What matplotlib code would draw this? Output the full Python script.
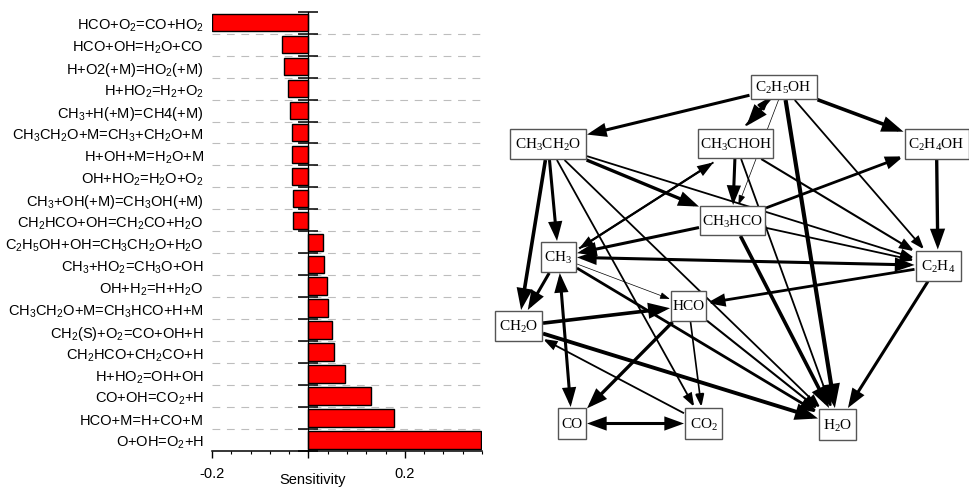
import re
import matplotlib
matplotlib.use("Agg")
import matplotlib.pyplot as plt
from matplotlib.patches import Rectangle, FancyArrowPatch
import numpy as np

plt.rcParams["font.family"] = ["Liberation Sans", "DejaVu Sans"]

# ---------------- data: sensitivity bar chart ----------------
reactions = [
    "HCO+O_2=CO+HO_2", "HCO+OH=H_2O+CO", "H+O2(+M)=HO_2(+M)", "H+HO_2=H_2+O_2",
    "CH_3+H(+M)=CH4(+M)", "CH_3CH_2O+M=CH_3+CH_2O+M", "H+OH+M=H_2O+M",
    "OH+HO_2=H_2O+O_2", "CH_3+OH(+M)=CH_3OH(+M)", "CH_2HCO+OH=CH_2CO+H_2O",
    "C_2H_5OH+OH=CH_3CH_2O+H_2O", "CH_3+HO_2=CH_3O+OH", "OH+H_2=H+H_2O",
    "CH_3CH_2O+M=CH_3HCO+H+M", "CH_2(S)+O_2=CO+OH+H", "CH_2HCO+CH_2CO+H",
    "H+HO_2=OH+OH", "CO+OH=CO_2+H", "HCO+M=H+CO+M", "O+OH=O_2+H",
]
sensitivity = [-0.200, -0.055, -0.050, -0.043, -0.038, -0.035, -0.035, -0.034,
               -0.032, -0.031, 0.030, 0.033, 0.039, 0.040, 0.048, 0.054,
               0.075, 0.130, 0.177, 0.358]
x_ticks = [-0.2, 0.0, 0.2]
x_tick_labels = ["-0.2", "", "0.2"]
x_label = "Sensitivity"

# ---------------- data: reaction path network ----------------
species = ["C_2H_5OH", "CH_3CH_2O", "CH_3CHOH", "C_2H_4OH", "CH_3HCO", "CH_3",
           "C_2H_4", "HCO", "CH_2O", "CO", "CO_2", "H_2O"]
node_x = [783.5, 548, 735.5, 936.5, 732.5, 558.5, 938, 688.5, 518.5, 572, 703.5, 837.5]
node_y = [88, 145, 144.5, 145, 221.5, 258, 266.5, 307, 327, 424.5, 424.5, 425.5]
node_w = [66, 76, 75, 64, 65, 35, 45, 35, 47, 28, 37, 37]
node_h = [24, 30, 29, 30, 29, 30, 30, 30, 30, 31, 31, 31]

edge_src = ["C_2H_5OH", "C_2H_5OH", "CH_3CHOH", "C_2H_5OH", "C_2H_5OH", "C_2H_5OH",
            "C_2H_5OH", "CH_3CH_2O", "CH_3CH_2O", "CH_3CH_2O", "CH_3CH_2O", "CH_3CH_2O",
            "CH_3CH_2O", "CH_3CHOH", "CH_3", "CH_3CHOH", "CH_3CHOH", "CH_3CHOH",
            "CH_3HCO", "CH_3HCO", "CH_3HCO", "CH_3HCO", "CH_3", "CH_3", "CH_3",
            "CH_3", "CH_3", "CH_2O", "CH_2O", "CO_2", "HCO", "HCO", "HCO", "C_2H_4",
            "CO", "C_2H_4OH", "C_2H_4"]
edge_dst = ["CH_3CH_2O", "CH_3CHOH", "C_2H_5OH", "CH_3HCO", "H_2O", "C_2H_4",
            "C_2H_4OH", "CH_3", "CH_2O", "CH_3HCO", "C_2H_4", "CO_2",
            "H_2O", "CH_3HCO", "CH_3CHOH", "CH_3", "C_2H_4", "H_2O",
            "CH_3", "C_2H_4OH", "C_2H_4", "H_2O", "C_2H_4", "HCO", "CH_2O",
            "CO", "H_2O", "HCO", "H_2O", "CH_2O", "CO", "CO_2", "H_2O", "HCO",
            "CO_2", "C_2H_4", "H_2O"]
edge_lw = [2.2, 2.6, 1.2, 0.5, 3.0, 1.3,
           2.6, 2.2, 2.6, 2.4, 1.3, 1.3,
           1.3, 2.2, 1.6, 1.3, 1.5, 1.3,
           2.2, 2.0, 1.3, 2.6, 2.2, 0.5, 2.2,
           2.2, 2.0, 2.6, 2.8, 1.3, 2.4, 1.2, 1.5, 2.0,
           2.2, 2.4, 2.2]
edge_both = [False, False, False, False, False, False,
             False, False, False, False, False, False,
             False, False, False, False, False, False,
             False, False, False, False, True, False, False,
             True, False, False, False, False, False, False, False, False,
             True, False, False]
edge_shift = [0, 3, -4, 0, 0, 0,
              0, 0, 0, 0, 0, 0,
              0, 0, 4, -4, 0, 0,
              0, 0, 0, 0, 0, 0, 0,
              0, 0, 0, 0, 0, 0, 0, 0, 0,
              0, 0, 0]


def chem(s):
    return re.sub(r"_(\d)", r"$\\mathregular{_\1}$", s)


W, H = 969, 489
fig = plt.figure(figsize=(W / 100, H / 100), dpi=100)

# ================= left panel =================
ax = fig.add_axes([212 / W, 1 - 452 / H, 270 / W, 439.3 / H])
y = np.arange(len(reactions))
ax.barh(y, sensitivity, height=0.8, color="#ff0000", edgecolor="black",
        linewidth=1.0, zorder=3)
ax.set_ylim(len(reactions) - 0.5, -0.5)
ax.set_xlim(-0.2, 0.36)
ax.set_yticks(y)
ax.set_yticklabels([chem(r) for r in reactions], fontsize=10.5)
ax.tick_params(axis="y", which="major", length=0, pad=6)
ax.set_yticks(np.arange(len(reactions) - 1) + 0.5, minor=True)
ax.tick_params(axis="y", which="minor", length=0)
ax.grid(axis="y", which="minor", color="#bdbdbd", linestyle=(0, (7, 6)),
        linewidth=0.8, zorder=0)
ax.set_xticks(x_ticks)
ax.set_xticklabels(x_tick_labels, fontsize=10.5)
ax.set_xticks(np.arange(-0.2, 0.3601, 0.04), minor=True)
ax.tick_params(axis="x", which="major", direction="out", length=5, width=1, pad=6)
ax.tick_params(axis="x", which="minor", direction="out", length=2.5, width=0.8)
for s in ["left", "right", "top"]:
    ax.spines[s].set_visible(False)
ax.spines["bottom"].set_linewidth(1.1)
ax.set_xlabel(x_label, fontsize=10.5)
xl = ax.get_xlim()
ax.xaxis.set_label_coords((0.008 - xl[0]) / (xl[1] - xl[0]), -0.048)
ax.xaxis.label.set_va("top")

# ticks across the zero line at category boundaries
axt = ax.twinx()
axt.set_ylim(ax.get_ylim())
axt.spines["right"].set_position(("data", 0))
for s in ["left", "top", "bottom"]:
    axt.spines[s].set_visible(False)
axt.spines["right"].set_linewidth(0.9)
axt.set_yticks(np.arange(len(reactions) + 1) - 0.5)
axt.tick_params(axis="y", direction="inout", length=14, width=1.1,
                labelright=False, labelleft=False)

# ================= right panel =================
ax2 = fig.add_axes([484 / W, 0, (W - 484) / W, 1])
ax2.set_xlim(484, W)
ax2.set_ylim(H, 0)
ax2.axis("off")

idx = {n: i for i, n in enumerate(species)}


def clip(i, dx, dy):
    hw, hh = node_w[i] / 2 + 1, node_h[i] / 2 + 1
    tx = hw / abs(dx) if dx != 0 else np.inf
    ty = hh / abs(dy) if dy != 0 else np.inf
    return min(tx, ty)


for s, d, lw, both, sh in zip(edge_src, edge_dst, edge_lw, edge_both, edge_shift):
    a, b = idx[s], idx[d]
    xa, ya, xb, yb = node_x[a], node_y[a], node_x[b], node_y[b]
    dx, dy = xb - xa, yb - ya
    L = np.hypot(dx, dy)
    ux, uy = dx / L, dy / L
    px, py = -uy * sh, ux * sh
    xa, ya, xb, yb = xa + px, ya + py, xb + px, yb + py
    ta = clip(a, ux, uy)
    tb = clip(b, ux, uy)
    pA = (xa + ux * ta, ya + uy * ta)
    pB = (xb - ux * tb, yb - uy * tb)
    hl = 5 + 2.2 * lw
    hw = 1.6 + 0.9 * lw
    style = ("<|-|>" if both else "-|>") + f",head_length={hl},head_width={hw}"
    arr = FancyArrowPatch(pA, pB, arrowstyle=style, mutation_scale=1,
                          shrinkA=0, shrinkB=0, lw=lw, color="black",
                          joinstyle="miter", capstyle="butt", zorder=2)
    ax2.add_patch(arr)

for n, x0, y0, w0, h0 in zip(species, node_x, node_y, node_w, node_h):
    ax2.add_patch(Rectangle((x0 - w0 / 2, y0 - h0 / 2), w0, h0, facecolor="white",
                            edgecolor="#555555", lw=1.0, zorder=4))
    ax2.text(x0, y0, chem(n), ha="center", va="center", fontsize=11,
             family=["Liberation Serif", "DejaVu Serif"], zorder=5)

fig.savefig("out.png", dpi=100)
